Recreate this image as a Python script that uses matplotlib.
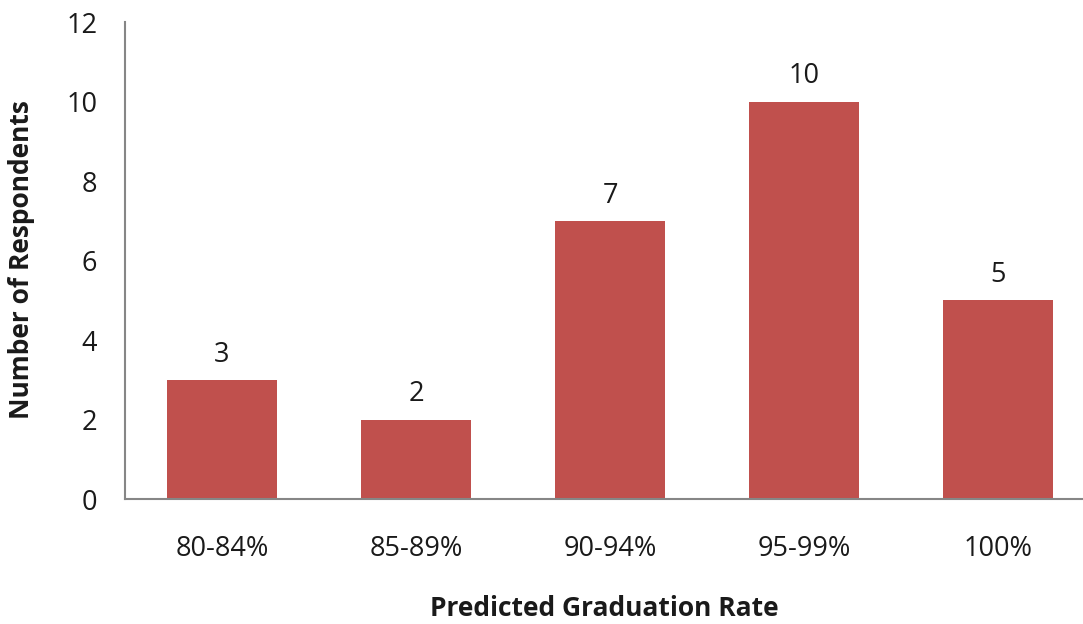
import matplotlib
matplotlib.use("Agg")
import matplotlib.pyplot as plt

categories = ["80-84%", "85-89%", "90-94%", "95-99%", "100%"]
values = [3, 2, 7, 10, 5]
y_ticks = [0, 2, 4, 6, 8, 10, 12]

plt.rcParams['font.family'] = ['Open Sans', 'DejaVu Sans']

W, H = 1083, 624
fig = plt.figure(figsize=(W / 100, H / 100), dpi=100)
ax = fig.add_axes([125 / W, (H - 499) / H, 970 / W, 477 / H])

x = list(range(len(categories)))
bars = ax.bar(x, values, width=0.567, color="#C0504D", zorder=2)
for xi, v in zip(x, values):
    ax.annotate(str(v), (xi, v), xytext=(0, 8), textcoords="offset points",
                ha="center", va="bottom", fontsize=19.5, color="#1a1a1a")

ax.set_xlim(-0.5, 4.5)
ax.set_ylim(0, 12)
ax.set_yticks(y_ticks)
ax.set_xticks(x)
ax.set_xticklabels(categories)
ax.tick_params(axis="both", length=0, labelsize=19.5, colors="#1a1a1a")
ax.tick_params(axis="x", pad=26)
ax.tick_params(axis="y", pad=20)

for s in ["top", "right"]:
    ax.spines[s].set_visible(False)
for s in ["left", "bottom"]:
    ax.spines[s].set_color("#868686")
    ax.spines[s].set_linewidth(1.5)

fig.text(22 / W, 1 - 260 / H, "Number of Respondents", rotation=90, ha="center", va="center",
         fontsize=19, fontweight="bold", color="#1a1a1a")
fig.text(604 / W, 1 - 608 / H, "Predicted Graduation Rate", ha="center", va="center",
         fontsize=19, fontweight="bold", color="#1a1a1a")

fig.savefig("out.png", dpi=100)
